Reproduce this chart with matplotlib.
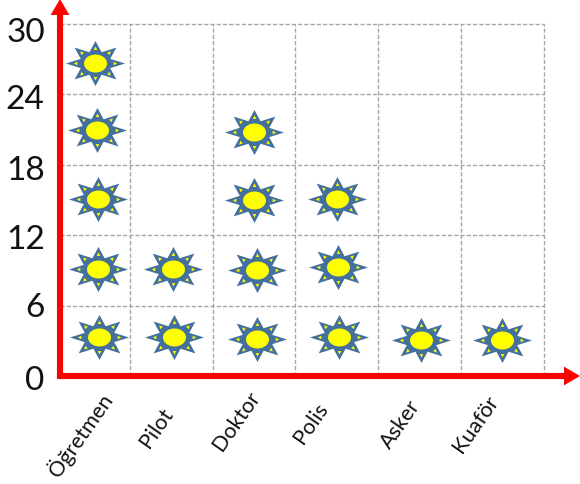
import numpy as np
import matplotlib
matplotlib.use('Agg')
import matplotlib.pyplot as plt
from matplotlib.path import Path
from matplotlib.transforms import ScaledTranslation

plt.rcParams['font.family'] = ['Lato', 'DejaVu Sans']

# category names and y ticks
categories = ['Öğretmen', 'Pilot', 'Doktor', 'Polis', 'Asker', 'Kuaför']
y_ticks = [0, 6, 12, 18, 24, 30]

# every sun: column position and value
sun_x = [1.08, 1.10, 1.11, 1.12, 1.13,
         2.02, 2.03,
         3.00, 3.00, 3.03, 3.04,
         4.00, 4.01, 4.02,
         5.02,
         5.99]
sun_y = [26.7, 21.0, 15.1, 9.1, 3.3,
         9.1, 3.3,
         20.8, 15.0, 9.0, 3.15,
         15.1, 9.3, 3.3,
         3.07,
         3.07]

# label centres
label_x = [0.896, 1.826, 2.792, 3.686, 4.773, 5.679]
label_y = [-4.94, -4.35, -3.75, -3.92, -4.0, -4.0]

# nudges of the y labels in pixels, the original is not quite even
y_label_shift = [-1, 1.5, -1, -2, -1.5, -5]

W, H = 580, 485
fig = plt.figure(figsize=(W / 100, H / 100), dpi=100)
ax = fig.add_axes([60 / W, (H - 377) / H, 484 / W, 352 / H])
ax.set_xlim(0.657, 6.5)
ax.set_ylim(0, 30)
for s in ax.spines.values():
    s.set_visible(False)

# dashed grid
ax.set_xticks(np.arange(1.5, 7))
ax.set_yticks(y_ticks)
ax.set_xticklabels([])
ax.set_yticklabels([str(t) for t in y_ticks], fontsize=24, color='#111111')
ax.tick_params(length=0, axis='both')
ax.tick_params(axis='y', pad=11)
ax.grid(True, color='#a6a6a6', linestyle=(0, (3, 1.5)), linewidth=1)
for gl in ax.get_xgridlines() + ax.get_ygridlines():
    gl.set_clip_on(False)
ax.set_axisbelow(True)
for lab, shift in zip(ax.get_yticklabels(), y_label_shift):
    lab.set_transform(lab.get_transform() + ScaledTranslation(0, shift / 100, fig.dpi_scale_trans))


def star_path(rx, ry, inner):
    # 8 point star, points slightly flattened like the original shape
    ang = np.arange(16) * np.pi / 8
    rad = np.where(np.arange(16) % 2 == 0, 1.0, inner)
    verts = np.c_[rad * np.cos(ang) * rx, rad * np.sin(ang) * ry]
    verts = np.vstack([verts, verts[0]])
    codes = [Path.MOVETO] + [Path.LINETO] * 15 + [Path.CLOSEPOLY]
    return Path(verts, codes)


def dots_path(rx, ry, r0, size):
    verts, codes = [], []
    for a in np.arange(8) * np.pi / 4:
        d = np.array([np.cos(a), np.sin(a)])
        n = np.array([-d[1], d[0]])
        c = np.array([d[0] * rx, d[1] * ry]) * r0
        verts += [c + d * size, c - d * size * 0.6 + n * size * 0.8,
                  c - d * size * 0.6 - n * size * 0.8, c + d * size]
        codes += [Path.MOVETO, Path.LINETO, Path.LINETO, Path.CLOSEPOLY]
    return Path(np.array(verts), codes)


def px_size(p):
    # scatter scales a custom path so its biggest coordinate is sqrt(s)/2 points
    return (2 * np.abs(p.vertices).max() * 0.72) ** 2


star = star_path(29.5, 22.5, 0.54)
dots = dots_path(29.5, 22.5, 0.66, 2.2)
t = np.linspace(0, 2 * np.pi, 40)
oval = Path(np.c_[11.5 * np.cos(t), 9 * np.sin(t)])

ax.scatter(sun_x, sun_y, marker=star, s=px_size(star), color='#44709d',
           linewidths=0, zorder=3, clip_on=False)
ax.scatter(sun_x, sun_y, marker=dots, s=px_size(dots), color='#ffff00',
           linewidths=0, zorder=4, clip_on=False)
ax.scatter(sun_x, sun_y, marker=oval, s=px_size(oval), color='#ffff00',
           linewidths=0, zorder=5, clip_on=False)

# red arrows for the axes
arrow = dict(facecolor='#ff0000', edgecolor='#ff0000', width=4.4,
             headwidth=13.5, headlength=11.5, shrink=0, linewidth=0)
ax.annotate('', xy=(0, 377 / 352), xytext=(0, -3 / 352), xycoords='axes fraction',
            arrowprops=arrow, zorder=6, annotation_clip=False)
ax.annotate('', xy=(520 / 484, 0), xytext=(-3 / 484, 0), xycoords='axes fraction',
            arrowprops=arrow, zorder=6, annotation_clip=False)

for name, lx, ly in zip(categories, label_x, label_y):
    ax.text(lx, ly, name, fontsize=15.5, rotation=55, ha='center', va='center',
            rotation_mode='anchor', color='#111111', clip_on=False)

fig.savefig('out.png', dpi=100)
